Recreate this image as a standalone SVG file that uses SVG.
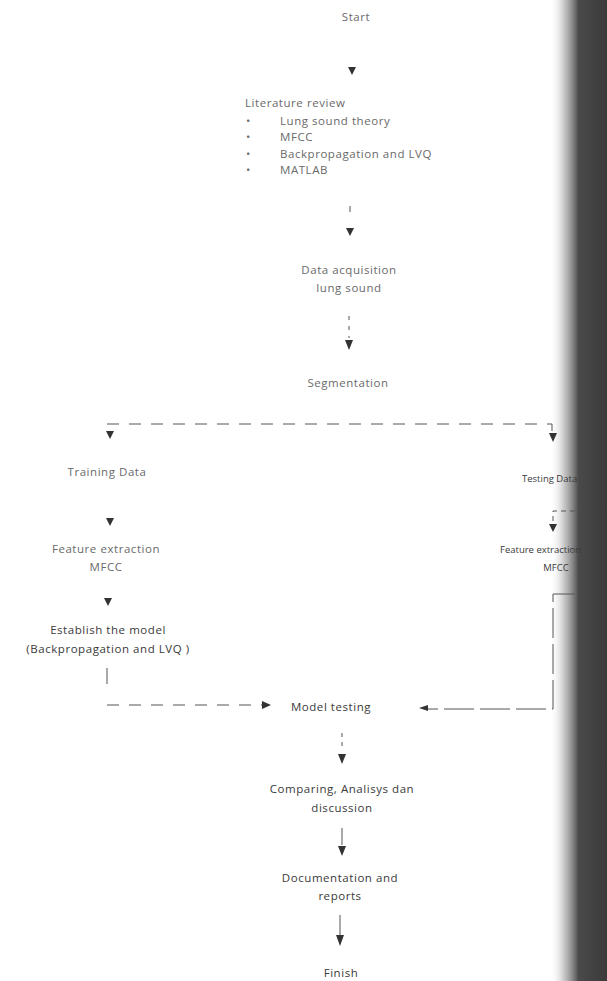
<svg xmlns="http://www.w3.org/2000/svg" width="607" height="981" viewBox="0 0 607 981">
<defs>
<linearGradient id="edge" x1="0" y1="0" x2="1" y2="0">
<stop offset="0" stop-color="#ffffff" stop-opacity="0"/>
<stop offset="0.25" stop-color="#a0a0a0" stop-opacity="0.6"/>
<stop offset="0.5" stop-color="#4a4a4a"/>
<stop offset="1" stop-color="#3a3a3a"/>
</linearGradient>
<style>
text{font-family:"Open Sans","Liberation Sans",sans-serif;font-size:11.5px;fill:#6a6a6a;letter-spacing:0.55px}
.c{text-anchor:middle}
.d{fill:#3a3a3a}
.r{font-size:9.5px;letter-spacing:0}
.ln{stroke:#555;stroke-width:1;fill:none}
.ds{stroke:#555;stroke-width:1;fill:none;stroke-dasharray:12 10}
.tri{fill:#333}
</style>
</defs>
<rect width="607" height="981" fill="#ffffff"/>
<rect x="550" y="0" width="57" height="981" fill="url(#edge)"/>

<g id="start"><text class="c" x="356" y="21">Start</text></g>
<g id="literature">
<text x="245" y="107">Literature review</text>
<text x="246" y="125">•</text><text x="280" y="125">Lung sound theory</text>
<text x="246" y="141">•</text><text x="280" y="141">MFCC</text>
<text x="246" y="158">•</text><text x="280" y="158">Backpropagation and LVQ</text>
<text x="246" y="174">•</text><text x="280" y="174">MATLAB</text>
</g>
<g id="acquisition"><text class="c" x="349" y="274">Data acquisition</text><text class="c" x="349" y="292">lung sound</text></g>
<g id="segmentation"><text class="c" x="348" y="387">Segmentation</text></g>
<g id="training"><text class="c" x="107" y="476">Training Data</text></g>
<g id="feature-left"><text class="c" x="106" y="553">Feature extraction</text><text class="c" x="106" y="571">MFCC</text></g>
<g id="establish"><text class="c d" x="108" y="634">Establish the model</text><text class="c d" x="108" y="653">(Backpropagation and LVQ )</text></g>
<g id="testing"><text class="d r" x="522" y="482">Testing Data</text></g>
<g id="feature-right"><text class="d r" x="500" y="553">Feature extraction</text><text class="c d r" x="556" y="571">MFCC</text></g>
<g id="model-testing"><text class="c d" x="331" y="711">Model testing</text></g>
<g id="comparing"><text class="c d" x="342" y="793">Comparing, Analisys dan</text><text class="c d" x="342" y="812">discussion</text></g>
<g id="documentation"><text class="c d" x="340" y="882">Documentation and</text><text class="c d" x="340" y="900">reports</text></g>
<g id="finish"><text class="c d" x="341" y="977">Finish</text></g>

<g id="connectors">
<path class="tri" d="M348,67 L356,67 L352,75 Z"/>
<path class="ln" d="M350,206 V212"/>
<path class="tri" d="M346,228 L354,228 L350,236 Z"/>
<path class="ds" d="M349,316 V338" style="stroke-dasharray:4 6"/>
<path class="tri" d="M345,340 L353,340 L349,350 Z"/>
<path class="ds" d="M107,424 H552 V432"/>
<path class="tri" d="M106,431 L114,431 L110,439 Z"/>
<path class="tri" d="M549,433 L557,433 L553,442 Z"/>
<path class="tri" d="M106,518 L114,518 L110,526 Z"/>
<path class="ds" d="M575,511 H553 V522" style="stroke-dasharray:5 4"/>
<path class="tri" d="M549,524 L557,524 L553,532 Z"/>
<path class="tri" d="M104,598 L112,598 L108,606 Z"/>
<path class="ln" d="M107,668 V684"/>
<path class="ds" d="M107,705 H262"/>
<path class="tri" d="M262,701 L271,705 L262,709 Z"/>
<path class="ds" d="M575,594 H553 V709 H428" style="stroke-dasharray:30 6"/>
<path class="tri" d="M428,705 L419,708 L428,711 Z"/>
<path class="ds" d="M342,733 V748" style="stroke-dasharray:4 5"/>
<path class="tri" d="M338,754 L346,754 L342,764 Z"/>
<path class="ln" d="M342,828 V845"/>
<path class="tri" d="M338,846 L346,846 L342,856 Z"/>
<path class="ln" d="M340,915 V935"/>
<path class="tri" d="M336,935 L344,935 L340,946 Z"/>
</g>
</svg>
